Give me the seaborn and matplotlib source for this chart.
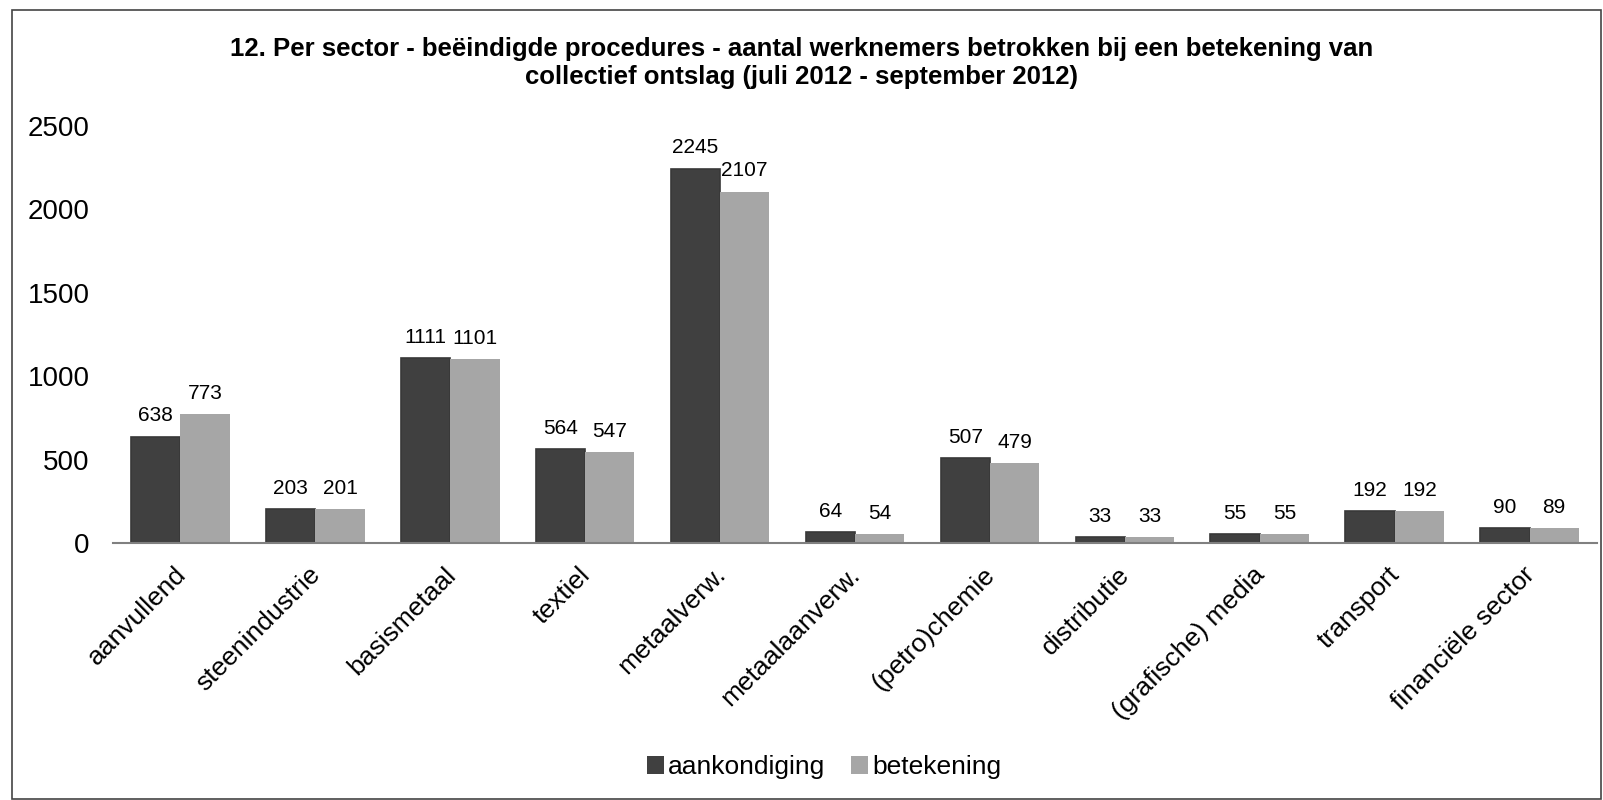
import matplotlib
matplotlib.use("Agg")
import matplotlib.pyplot as plt
import matplotlib.transforms as mtrans
import seaborn as sns
import pandas as pd
from matplotlib.patches import Rectangle

categories = ["aanvullend", "steenindustrie", "basismetaal", "textiel", "metaalverw.",
              "metaalaanverw.", "(petro)chemie", "distributie", "(grafische) media",
              "transport", "financiële sector"]
aankondiging = [638, 203, 1111, 564, 2245, 64, 507, 33, 55, 192, 90]
betekening = [773, 201, 1101, 547, 2107, 54, 479, 33, 55, 192, 89]
series = ["aankondiging", "betekening"]
yticks = [0, 500, 1000, 1500, 2000, 2500]
title = ("12. Per sector - beëindigde procedures - aantal werknemers betrokken bij een betekening van\n"
         "collectief ontslag (juli 2012 - september 2012)")

df = pd.DataFrame({
    "sector": categories * 2,
    "reeks": [series[0]] * len(categories) + [series[1]] * len(categories),
    "waarde": aankondiging + betekening,
})

sns.set_theme(style="white")
plt.rcParams["font.family"] = ["Liberation Sans", "DejaVu Sans"]
plt.rcParams["text.color"] = "black"
plt.rcParams["xtick.color"] = "black"
plt.rcParams["ytick.color"] = "black"
plt.rcParams["xtick.labelcolor"] = "black"
plt.rcParams["ytick.labelcolor"] = "black"

fig = plt.figure(figsize=(16.03, 8.0), dpi=100)
ax = fig.add_axes([113 / 1603, 1 - 543 / 800, (1597 - 113) / 1603, (543 - 126) / 800])

palette = {"aankondiging": "#404040", "betekening": "#a6a6a6"}
sns.barplot(data=df, x="sector", y="waarde", hue="reeks", hue_order=series,
            order=categories, palette=palette, width=0.73, ax=ax, saturation=1,
            edgecolor="none", linewidth=0)

for cont in ax.containers:
    ax.bar_label(cont, fmt="%d", padding=8, fontsize=15, color="black")

for bar in ax.containers[0]:
    bar.set_edgecolor("#383838")
    bar.set_linewidth(1.2)

ax.set_ylim(0, 2500)
ax.set_xlim(-0.5, len(categories) - 0.5)
ax.set_yticks(yticks)
ax.set_yticklabels([str(v) for v in yticks], fontsize=20, color="black")
ax.tick_params(axis="y", length=0, pad=17)
ax.tick_params(axis="x", length=0, pad=14)
ax.set_xticks(range(len(categories)))
ax.set_xticklabels(categories, rotation=45, ha="right", rotation_mode="anchor",
                   fontsize=19, color="black")
shift = mtrans.ScaledTranslation(-7 / 100, 0, fig.dpi_scale_trans)
for lbl in ax.get_xticklabels():
    lbl.set_transform(lbl.get_transform() + shift)
ax.set_xlabel("")
ax.set_ylabel("")
for s in ["left", "right", "top"]:
    ax.spines[s].set_visible(False)
ax.spines["bottom"].set_color("#808080")
ax.spines["bottom"].set_linewidth(1.5)
ax.grid(False)

fig.text(0.5, 1 - 63 / 800, title, ha="center", va="center", fontsize=18.5,
         fontweight="bold", linespacing=1.25, color="black")

handles, labels = ax.get_legend_handles_labels()
if ax.legend_:
    ax.legend_.remove()
leg = fig.legend(handles, labels, loc="center", bbox_to_anchor=(824 / 1603, 1 - 767 / 800),
                 ncol=2, frameon=False, fontsize=19, handlelength=0.65, handleheight=0.65,
                 handletextpad=0.15, columnspacing=1.0)
for t in leg.get_texts():
    t.set_color("black")

fig.patches.append(Rectangle((12 / 1603, 0.001), 1 - 12 / 1603 - 0.001, 1 - 10 / 800 - 0.001,
                             transform=fig.transFigure, fill=False,
                             edgecolor="#444444", linewidth=1.2))

fig.savefig("out.png", dpi=100)
